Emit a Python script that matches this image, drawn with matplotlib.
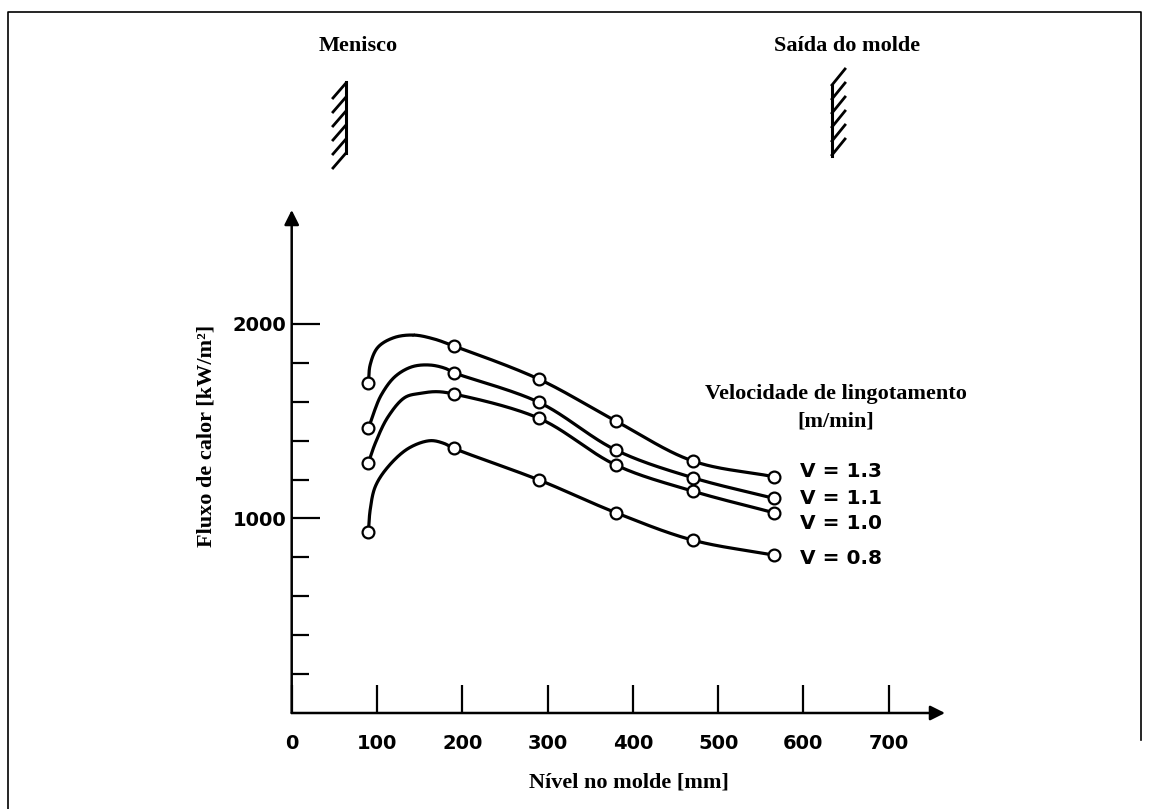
import numpy as np
import matplotlib
matplotlib.use("Agg")
import matplotlib.pyplot as plt

# Pontos medidos (nível no molde [mm], fluxo de calor [kW/m²])
nivel = [90, 190, 290, 380, 470, 565]
fluxo_v13 = [1695, 1887, 1716, 1501, 1296, 1215]
fluxo_v11 = [1464, 1750, 1597, 1352, 1210, 1104]
fluxo_v10 = [1287, 1640, 1515, 1275, 1141, 1030]
fluxo_v08 = [932, 1361, 1198, 1030, 889, 812]

# Traçado das curvas perto do menisco (antes do 2º ponto medido)
curva_x_v13 = [92, 101, 120, 143, 166]
curva_y_v13 = [1790, 1880, 1930, 1943, 1924]
curva_x_v11 = [96, 105, 121, 141, 162, 180]
curva_y_v11 = [1541, 1635, 1729, 1780, 1789, 1772]
curva_x_v10 = [98, 113, 133, 152, 170]
curva_y_v10 = [1387, 1523, 1623, 1644, 1652]
curva_x_v08 = [92, 98, 113, 137, 162, 178]
curva_y_v08 = [1044, 1164, 1266, 1361, 1400, 1387]

rotulos = ["V = 1.3", "V = 1.1", "V = 1.0", "V = 0.8"]
rotulo_y = [1241, 1104, 975, 795]

x_ticks = [0, 100, 200, 300, 400, 500, 600, 700]
y_major = [1000, 2000]
y_minor = [200, 400, 600, 800, 1200, 1400, 1600, 1800]

W, H = 1149, 809
SX, SY = 0.853, 0.1945   # px por unidade, para suavizar em espaço de tela


def catmull_rom(xs, ys, n=40):
    """Spline Catmull-Rom centrípeta passando pelos pontos dados."""
    p = np.column_stack([np.asarray(xs) * SX, np.asarray(ys) * SY])
    p = np.vstack([2 * p[0] - p[1], p, 2 * p[-1] - p[-2]])
    out = []
    for i in range(1, len(p) - 2):
        p0, p1, p2, p3 = p[i - 1], p[i], p[i + 1], p[i + 2]
        t0 = 0.0
        t1 = t0 + np.linalg.norm(p1 - p0) ** 0.5
        t2 = t1 + np.linalg.norm(p2 - p1) ** 0.5
        t3 = t2 + np.linalg.norm(p3 - p2) ** 0.5
        t = np.linspace(t1, t2, n)[:, None]
        a1 = (t1 - t) / (t1 - t0) * p0 + (t - t0) / (t1 - t0) * p1
        a2 = (t2 - t) / (t2 - t1) * p1 + (t - t1) / (t2 - t1) * p2
        a3 = (t3 - t) / (t3 - t2) * p2 + (t - t2) / (t3 - t2) * p3
        b1 = (t2 - t) / (t2 - t0) * a1 + (t - t0) / (t2 - t0) * a2
        b2 = (t3 - t) / (t3 - t1) * a2 + (t - t1) / (t3 - t1) * a3
        c = (t2 - t) / (t2 - t1) * b1 + (t - t1) / (t2 - t1) * b2
        out.append(c)
    c = np.vstack(out)
    return c[:, 0] / SX, c[:, 1] / SY


fig = plt.figure(figsize=(W / 100, H / 100), dpi=100)
fig.patch.set_facecolor("white")

# eixo auxiliar em pixels para moldura e símbolos de parede
ov = fig.add_axes([0, 0, 1, 1])
ov.set_xlim(0, W)
ov.set_ylim(H, 0)
ov.axis("off")
ov.plot([8, 8, 1141, 1141], [H, 12, 12, 740], color="black", lw=1.2)

# parede do menisco (hachura à esquerda)
ov.plot([346, 346], [82, 153], color="black", lw=2.2)
for y0 in np.linspace(83, 153, 6):
    ov.plot([346, 333], [y0, y0 + 15], color="black", lw=2)
# parede da saída do molde (hachura à direita)
ov.plot([832, 832], [85, 156], color="black", lw=2.2)
for y0 in np.linspace(85, 155, 6):
    ov.plot([832, 845], [y0, y0 - 16], color="black", lw=2)

serif = dict(family="Liberation Serif", weight="bold", fontsize=16)
fig.text(358 / W, 1 - 46 / H, "Menisco", ha="center", va="center", **serif)
fig.text(847 / W, 1 - 46 / H, "Saída do molde", ha="center", va="center", **serif)
fig.text(629 / W, 1 - 782 / H, "Nível no molde [mm]", ha="center", va="center", **serif)
fig.text(207 / W, 1 - 436 / H, "Fluxo de calor [kW/m²]", ha="center", va="center",
         rotation=90, **serif)

# eixo principal: origem em (291.7, 713) px
x0, y0p, x1, y1p = 291.7, 713, 945, 210
ax = fig.add_axes([x0 / W, 1 - y0p / H, (x1 - x0) / W, (y0p - y1p) / H])
ax.set_xlim(0, 766)
ax.set_ylim(0, 2586)
ax.patch.set_alpha(0)
for s in ax.spines.values():
    s.set_visible(False)

ax.set_xticks(x_ticks)
ax.set_xticklabels([str(v) for v in x_ticks])
ax.set_yticks(y_major)
ax.set_yticklabels([str(v) for v in y_major])
ax.set_yticks(y_minor, minor=True)
ax.tick_params(axis="x", direction="in", length=20, width=1.6, pad=15,
               labelsize=14)
ax.tick_params(axis="y", which="major", direction="in", length=20, width=1.6,
               pad=4, labelsize=14)
ax.tick_params(axis="y", which="minor", direction="in", length=12, width=1.6)
for lab in ax.get_xticklabels() + ax.get_yticklabels():
    lab.set_fontweight("bold")

arrow = dict(arrowstyle="-|>", lw=1.8, color="black", mutation_scale=22,
             shrinkA=0, shrinkB=0)
ax.annotate("", xy=(766, 0), xytext=(0, 0), arrowprops=arrow, annotation_clip=False)
ax.annotate("", xy=(0, 2586), xytext=(0, 0), arrowprops=arrow, annotation_clip=False)

series = [
    (fluxo_v13, curva_x_v13, curva_y_v13),
    (fluxo_v11, curva_x_v11, curva_y_v11),
    (fluxo_v10, curva_x_v10, curva_y_v10),
    (fluxo_v08, curva_x_v08, curva_y_v08),
]
for fluxo, cx, cy in series:
    kx = [nivel[0]] + cx + nivel[1:]
    ky = [fluxo[0]] + cy + fluxo[1:]
    sx, sy = catmull_rom(kx, ky)
    ax.plot(sx, sy, color="black", lw=2.3, solid_capstyle="round", zorder=2)
    ax.plot(nivel, fluxo, linestyle="none", marker="o", markersize=8.5,
            markerfacecolor="white", markeredgecolor="black",
            markeredgewidth=1.6, zorder=3)

for txt, yv in zip(rotulos, rotulo_y):
    ax.text(596, yv, txt, ha="left", va="center", fontsize=14.5,
            fontweight="bold")

ax.text(638, 1640, "Velocidade de lingotamento", ha="center", va="center", **serif)
ax.text(638, 1498, "[m/min]", ha="center", va="center", **serif)

fig.savefig("out.png", dpi=100)
